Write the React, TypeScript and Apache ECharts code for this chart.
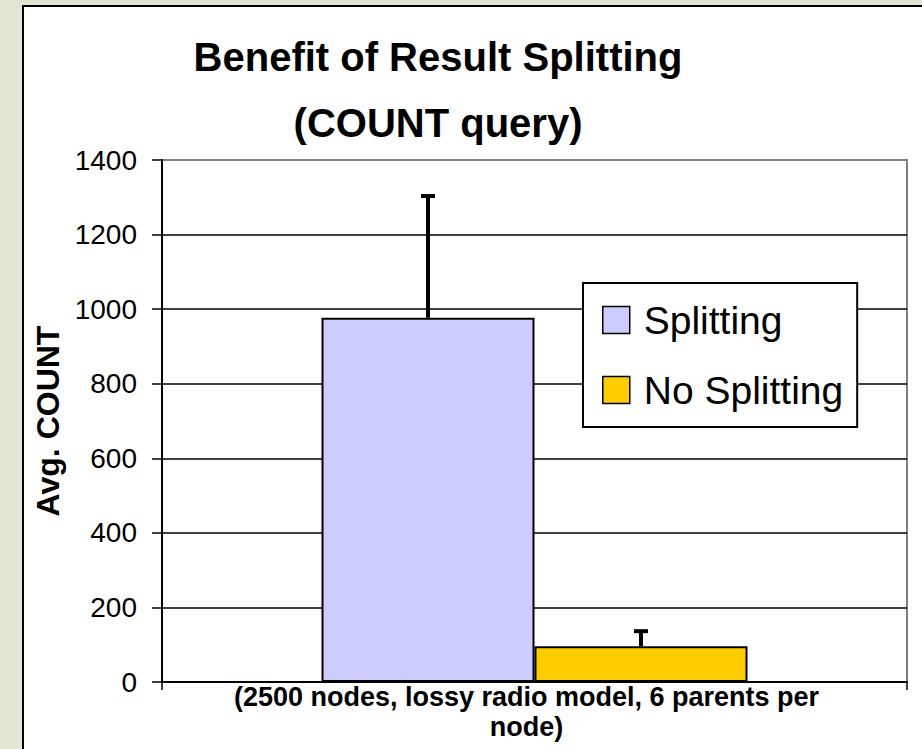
import React, { useEffect, useRef } from "react";
import * as echarts from "echarts";

const categories = ["(2500 nodes, lossy radio model, 6 parents per node)"];
const seriesNames = ["Splitting", "No Splitting"];
const splittingValues = [977];
const noSplittingValues = [96];
const splittingUpper = [1306];
const noSplittingUpper = [139];
const yTicks = { min: 0, max: 1400, interval: 200 };

const FONT = "'Liberation Sans', Arial, sans-serif";
const BAR_W = 213;

export default function App() {
  const ref = useRef<HTMLDivElement>(null);
  useEffect(() => {
    if (!ref.current) return;
    const chart = echarts.init(ref.current, null, { renderer: "svg" });

    const errSeries = (name: string, vals: number[], upper: number[], idx: number) => ({
      type: "custom",
      name,
      z: 5,
      data: vals.map((v, i) => [i, v, upper[i]]),
      renderItem: (params: any, api: any) => {
        const c = api.value(0);
        const lo = api.coord([c, api.value(1)]);
        const hi = api.coord([c, api.value(2)]);
        const off = (idx === 0 ? -1 : 1) * (BAR_W / 2);
        const x = lo[0] + off;
        return {
          type: "group",
          children: [
            { type: "line", shape: { x1: x, y1: lo[1], x2: x, y2: hi[1] }, style: { stroke: "#000", lineWidth: 4 } },
            { type: "line", shape: { x1: x - 7, y1: hi[1] + 1, x2: x + 7, y2: hi[1] + 1 }, style: { stroke: "#000", lineWidth: 4 } },
          ],
        };
      },
    });

    chart.setOption({
      animation: false,
      backgroundColor: "#e4e4d2",
      graphic: [
        {
          type: "rect",
          z: -10,
          shape: { x: 23, y: 6, width: 930, height: 780 },
          style: { fill: "#ffffff", stroke: "#000", lineWidth: 2 },
        },
      ],
      title: {
        text: "Benefit of Result Splitting\n(COUNT query)",
        left: 438,
        top: 24,
        padding: 0,
        textAlign: "center",
        textStyle: { fontFamily: FONT, fontSize: 40, fontWeight: "bold", color: "#000", lineHeight: 66 },
      },
      legend: {
        data: seriesNames,
        orient: "vertical",
        left: 583,
        top: 283,
        padding: [17, 14, 17, 19],
        itemGap: 30,
        itemWidth: 27,
        itemHeight: 27,
        icon: "rect",
        backgroundColor: "#fff",
        borderColor: "#000",
        borderWidth: 2,
        itemStyle: { borderColor: "#000", borderWidth: 1.5 },
        textStyle: { fontFamily: FONT, fontSize: 39, color: "#000", lineHeight: 40, padding: [0, 0, 0, 9] },
      },
      grid: {
        left: 162,
        top: 160,
        right: 15,
        bottom: 67,
        show: true,
        borderColor: "#808080",
        borderWidth: 2,
        backgroundColor: "transparent",
      },
      xAxis: {
        type: "category",
        data: categories,
        axisLine: { lineStyle: { color: "#000", width: 2 } },
        axisTick: { show: true, length: 8, lineStyle: { color: "#000", width: 1.5 } },
        axisLabel: {
          margin: 0,
          fontFamily: FONT,
          fontSize: 27,
          fontWeight: "bold",
          color: "#000",
          lineHeight: 30,
          align: "center",
          padding: [0, 16, 0, 0],
          formatter: (v: string) => v.replace(" node)", "\nnode)"),
        },
      },
      yAxis: {
        type: "value",
        min: yTicks.min,
        max: yTicks.max,
        interval: yTicks.interval,
        name: "Avg. COUNT",
        nameLocation: "middle",
        nameGap: 86,
        nameRotate: 90,
        nameTextStyle: { fontFamily: FONT, fontSize: 32, fontWeight: "bold", color: "#000" },
        axisLine: { show: true, lineStyle: { color: "#000", width: 2 } },
        axisTick: { show: true, length: 10, lineStyle: { color: "#000", width: 1.5 } },
        axisLabel: {
          margin: 25,
          fontFamily: FONT,
          fontSize: 28,
          color: "#000",
          formatter: (v: number) => String(v),
        },
        splitLine: {
          show: true,
          lineStyle: {
            color: ["#000", "#000", "#000", "#000", "#000", "#000", "#000", "#808080"],
            width: 1.5,
          },
        },
      },
      series: [
        {
          type: "bar",
          name: seriesNames[0],
          data: splittingValues,
          barWidth: BAR_W,
          barGap: "0%",
          itemStyle: { color: "#ccccff", borderColor: "#000", borderWidth: 2 },
        },
        {
          type: "bar",
          name: seriesNames[1],
          data: noSplittingValues,
          barWidth: BAR_W,
          barGap: "0%",
          itemStyle: { color: "#ffcc00", borderColor: "#000", borderWidth: 2 },
        },
        errSeries("Splitting error", splittingValues, splittingUpper, 0),
        errSeries("No Splitting error", noSplittingValues, noSplittingUpper, 1),
      ],
    });
    return () => chart.dispose();
  }, []);
  return <div ref={ref} style={{ position: "absolute", left: 0, top: 0, width: 922, height: 749 }} />;
}
